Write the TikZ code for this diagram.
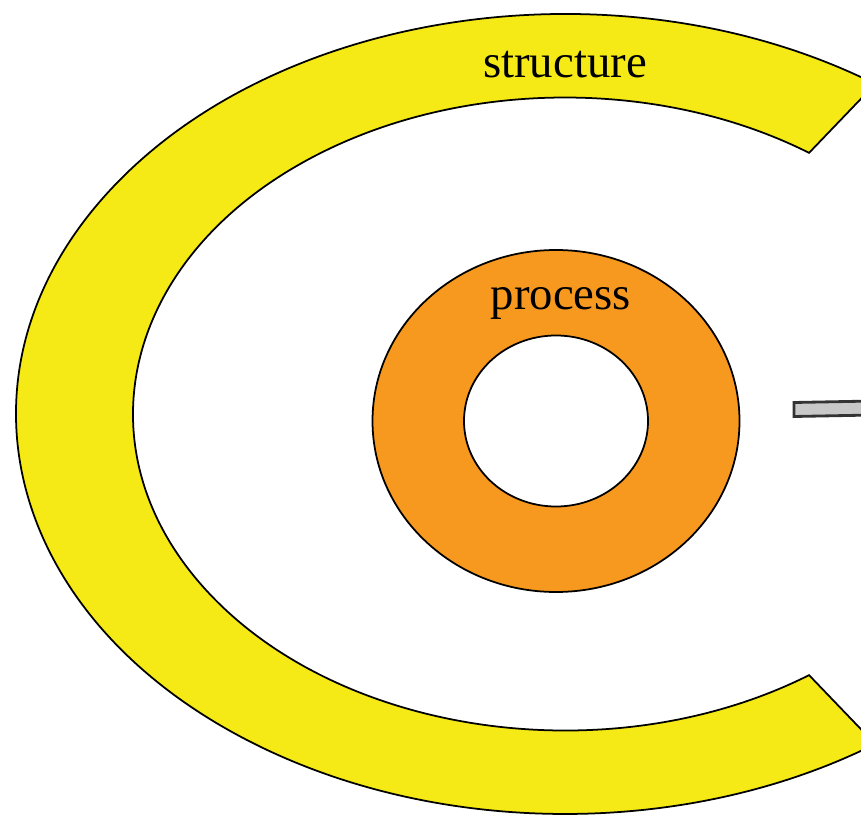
\documentclass[tikz,border=0pt]{standalone}
\usepackage{fontspec}
\setmainfont{Liberation Serif}
\usetikzlibrary{calc}
\definecolor{ringyellow}{RGB}{245,233,22}
\definecolor{ringorange}{RGB}{247,152,31}
\definecolor{bargray}{RGB}{200,200,200}
\tikzset{ring/.style={draw=black,line width=.5pt},
  label/.style={font=\fontsize{13.3}{16}\selectfont,anchor=base}}

\begin{document}
\begin{tikzpicture}
\useasboundingbox (0,0) rectangle (8.61,8.14);
\clip (0,0) rectangle (8.61,8.14);
\coordinate (O) at (5.65,4);
\coordinate (P) at (5.56,3.93);

% outer C
\draw[ring,fill=ringyellow]
  (O) ++(55.6:5.49 and 4) coordinate (A)
  arc[start angle=55.6,end angle=304.4,x radius=5.49,y radius=4] coordinate (B) --
  ($(O)+(-55.6:4.32 and 3.165)$) coordinate (C)
  arc[start angle=-55.6,end angle=-304.4,x radius=4.32,y radius=3.165] coordinate (D) --
  cycle;

% inner ring
\draw[ring,fill=ringorange,even odd rule]
  (P) ellipse[x radius=1.835,y radius=1.71]
  (P) ellipse[x radius=.92,y radius=.855];

\draw[ring,line width=.8pt,draw=black!80,fill=bargray]
  (7.94,3.975) -- (9,3.995) -- (9,4.135) -- (7.94,4.115) -- cycle;

\node[label] (structure) at (5.65,7.36) {structure};
\node[label] (process) at (5.61,5.04) {process};
\end{tikzpicture}
\end{document}
